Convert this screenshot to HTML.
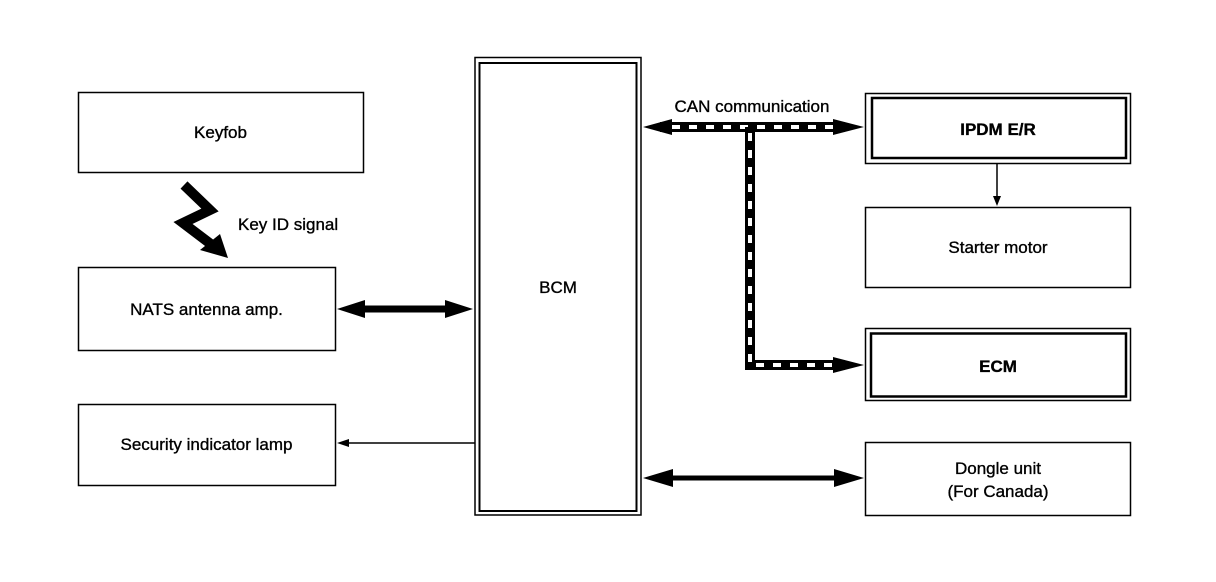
<!DOCTYPE html>
<html><head><meta charset="utf-8"><style>
html,body{margin:0;padding:0;background:#fff;}
svg{display:block;}
text{font-family:"Liberation Sans",Arial,sans-serif;font-size:17px;fill:#000;stroke:#000;stroke-width:0.35;}
</style></head><body>
<svg width="1216" height="582" viewBox="0 0 1216 582" xmlns="http://www.w3.org/2000/svg">
<g fill="none" stroke="#000">
<rect x="78.5" y="92.5" width="285" height="80" stroke-width="1.5"/>
<rect x="78.5" y="267.5" width="257" height="83" stroke-width="1.5"/>
<rect x="78.5" y="404.5" width="257" height="81" stroke-width="1.5"/>
<rect x="475" y="57.5" width="166" height="457.5" stroke-width="1.5"/>
<rect x="479.5" y="63" width="157" height="448" stroke-width="2"/>
<rect x="865.5" y="93.5" width="265" height="70" stroke-width="1.5"/>
<rect x="872" y="98" width="254" height="60" stroke-width="2.5"/>
<rect x="865.5" y="207.5" width="265" height="80" stroke-width="1.5"/>
<rect x="865.5" y="328.5" width="265" height="72" stroke-width="1.5"/>
<rect x="871" y="333.5" width="255" height="63" stroke-width="2.5"/>
<rect x="865.5" y="442.5" width="265" height="73" stroke-width="1.5"/>
</g>
<g>
<line x1="660" y1="127" x2="845" y2="127" stroke="#000" stroke-width="10"/>
<line x1="672" y1="127" x2="838" y2="127" stroke="#fff" stroke-width="4" stroke-dasharray="8,9"/>
<polyline points="750,127 750,365 845,365" fill="none" stroke="#000" stroke-width="10"/>
<polyline points="750,133 750,365 838,365" fill="none" stroke="#fff" stroke-width="4" stroke-dasharray="8,9"/>
<polygon points="643,127 672,119 672,135" fill="#000"/>
<polygon points="864,127 833,119 833,135" fill="#000"/>
<polygon points="864,365 833,357 833,373" fill="#000"/>
</g>
<line x1="360" y1="309" x2="450" y2="309" stroke="#000" stroke-width="7"/>
<polygon points="337,309 365,300 365,318" fill="#000"/>
<polygon points="473,309 445,300 445,318" fill="#000"/>
<line x1="665" y1="478" x2="845" y2="478" stroke="#000" stroke-width="5"/>
<polygon points="643,478 673,469 673,487" fill="#000"/>
<polygon points="864,478 834,469 834,487" fill="#000"/>
<line x1="345" y1="443" x2="475" y2="443" stroke="#000" stroke-width="1.5"/>
<polygon points="337,443 349,439 349,447" fill="#000"/>
<line x1="997" y1="163" x2="997" y2="198" stroke="#000" stroke-width="1.5"/>
<polygon points="997,206 993,196 1001,196" fill="#000"/>
<polyline points="184,185 210,210 183,223 216,248" fill="none" stroke="#000" stroke-width="10" stroke-linejoin="miter"/>
<polygon points="228,258 200,250 220,234" fill="#000"/>
<text x="220.5" y="138" text-anchor="middle">Keyfob</text>
<text x="238" y="230">Key ID signal</text>
<text x="206.5" y="315" text-anchor="middle">NATS antenna amp.</text>
<text x="206.5" y="450" text-anchor="middle">Security indicator lamp</text>
<text x="558" y="293" text-anchor="middle">BCM</text>
<text x="752" y="112" text-anchor="middle">CAN communication</text>
<text x="998" y="135" text-anchor="middle" font-size="18" font-weight="bold" stroke-width="0">IPDM E/R</text>
<text x="998" y="253" text-anchor="middle">Starter motor</text>
<text x="998" y="372" text-anchor="middle" font-size="18" font-weight="bold" stroke-width="0">ECM</text>
<text x="998" y="474" text-anchor="middle">Dongle unit</text>
<text x="998" y="497" text-anchor="middle">(For Canada)</text>
</svg>
</body></html>
